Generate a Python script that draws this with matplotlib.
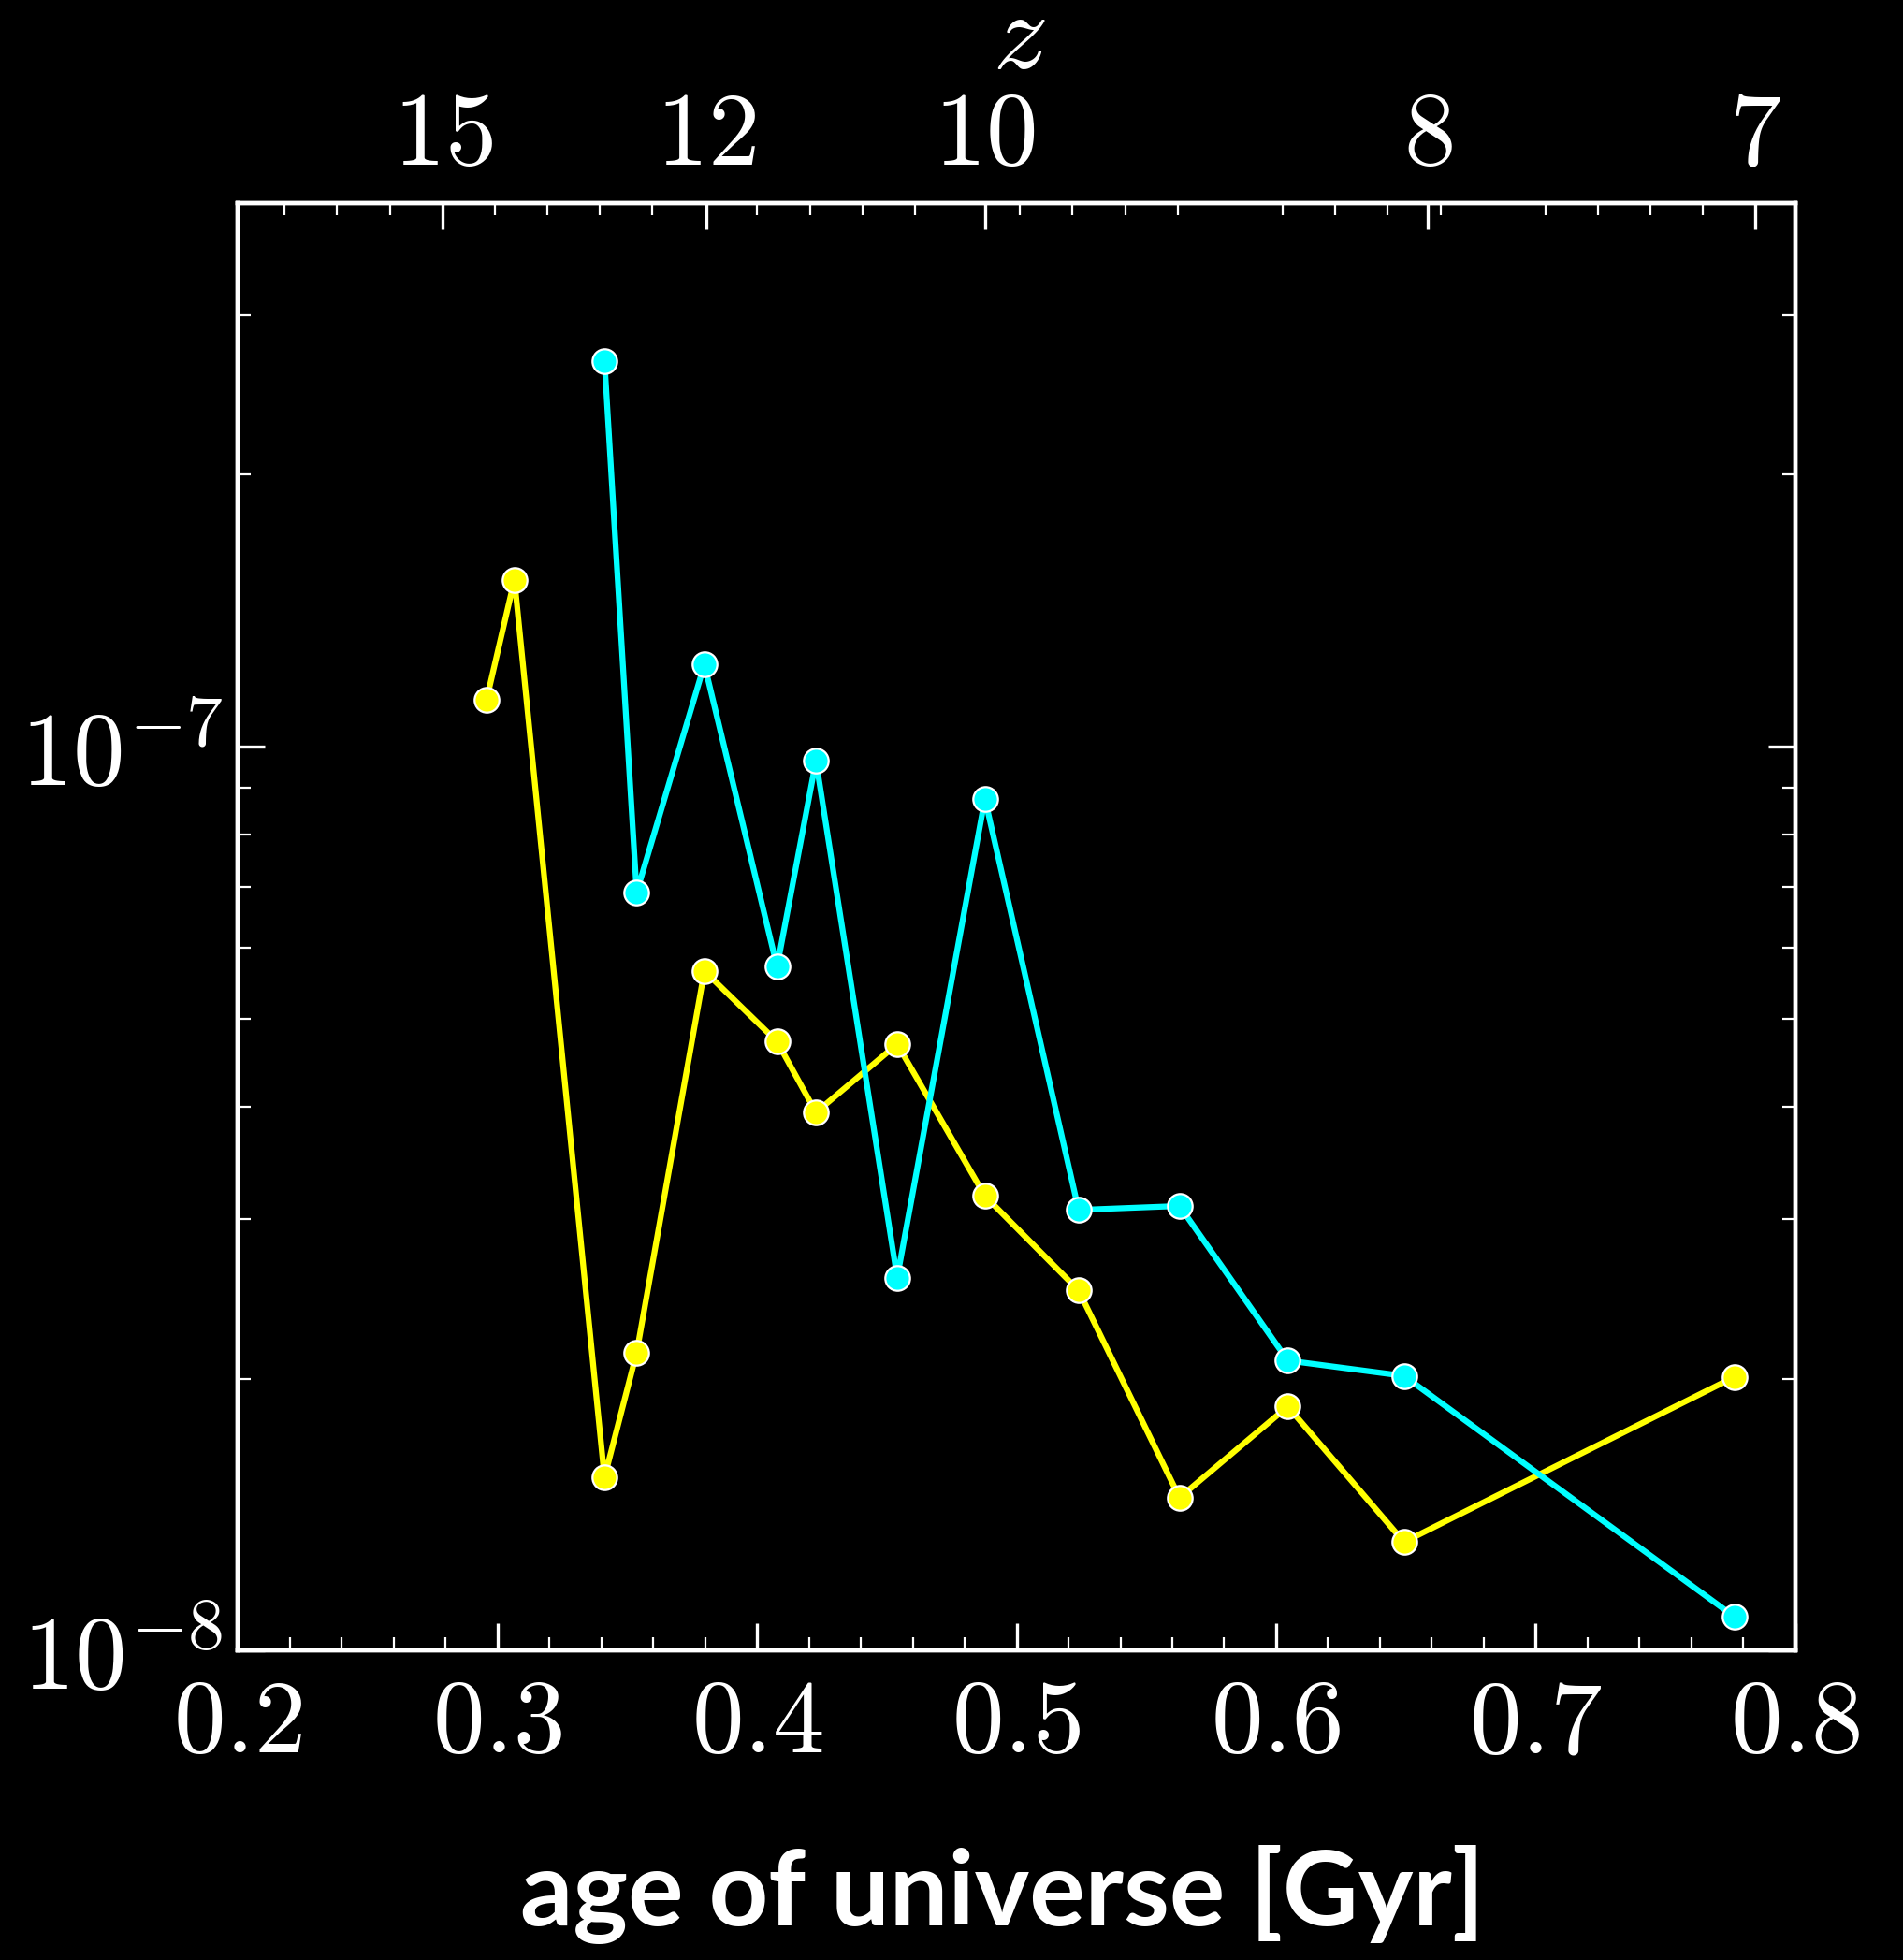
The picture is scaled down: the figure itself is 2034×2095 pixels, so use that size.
import numpy as np
import matplotlib.pyplot as plt
from matplotlib.ticker import MultipleLocator, LogLocator, NullFormatter

# age of universe [Gyr] and values
age_yellow = [0.2957, 0.3065, 0.3412, 0.3536, 0.3797, 0.4077, 0.4227,
              0.4540, 0.4878, 0.5239, 0.5628, 0.6045, 0.6493, 0.7767]
val_yellow = [1.126e-7, 1.531e-7, 1.555e-8, 2.137e-8, 5.65e-8, 4.72e-8, 3.94e-8,
              4.69e-8, 3.185e-8, 2.504e-8, 1.477e-8, 1.863e-8, 1.319e-8, 2.009e-8]

age_cyan = [0.3412, 0.3536, 0.3797, 0.4077, 0.4227, 0.4540,
            0.4878, 0.5239, 0.5628, 0.6045, 0.6493, 0.7767]
val_cyan = [2.672e-7, 6.90e-8, 1.234e-7, 5.71e-8, 9.65e-8, 2.587e-8,
            8.76e-8, 3.074e-8, 3.105e-8, 2.094e-8, 2.014e-8, 1.090e-8]

x_ticks = [0.2, 0.3, 0.4, 0.5, 0.6, 0.7, 0.8]
x_labels = ['0.2', '0.3', '0.4', '0.5', '0.6', '0.7', '0.8']
y_ticks = [1e-8, 1e-7]
y_labels = ['10^{-8}', '10^{-7}']

# redshift axis on top
z_labels = ['15', '12', '10', '8', '7']
z_age = [0.2789, 0.3803, 0.4878, 0.6584, 0.7846]
z_minor = [0.2180, 0.2382, 0.2585, 0.2989, 0.3192, 0.3394, 0.3597,
           0.4001, 0.4204, 0.4406, 0.4609, 0.5013, 0.5216, 0.5418, 0.5621,
           0.6025, 0.6228, 0.6430, 0.6633, 0.7037, 0.7240, 0.7442, 0.7645]

plt.rcParams['mathtext.fontset'] = 'cm'

fig = plt.figure(figsize=(20.34, 20.95), dpi=100, facecolor='black')
ax = fig.add_axes([0.1251, 0.1578, 0.8182, 0.7388])
ax.set_facecolor('black')

ax.plot(age_yellow, val_yellow, color='#ffff00', lw=4.5, marker='o', ms=19,
        mfc='#ffff00', mec='white', mew=1.6, zorder=3)
ax.plot(age_cyan, val_cyan, color='#00ffff', lw=4.5, marker='o', ms=19,
        mfc='#00ffff', mec='white', mew=1.6, zorder=4)

ax.set_yscale('log')
ax.set_xlim(0.2, 0.8)
ax.set_ylim(1e-8, 4e-7)

ax.set_xticks(x_ticks, ['$' + s + '$' for s in x_labels])
ax.xaxis.set_minor_locator(MultipleLocator(0.02))
ax.set_yticks(y_ticks, ['$' + s + '$' for s in y_labels])
ax.yaxis.set_minor_locator(LogLocator(base=10, subs=np.arange(2, 10)))
ax.yaxis.set_minor_formatter(NullFormatter())

ax.tick_params(which='both', direction='in', colors='white',
               top=False, bottom=True, left=True, right=True)
ax.tick_params(which='major', length=21, width=2.4, labelsize=80)
ax.tick_params(which='minor', length=10, width=1.6)
ax.tick_params(axis='x', which='major', pad=18)
ax.tick_params(axis='y', which='major', pad=12)
for s in ax.spines.values():
    s.set_color('white')
    s.set_linewidth(3.2)

ax2 = ax.twiny()
ax2.set_xlim(0.2, 0.8)
ax2.set_xticks(z_age, ['$' + s + '$' for s in z_labels])
ax2.set_xticks(z_minor, minor=True)
ax2.tick_params(which='both', direction='in', colors='white', top=True, bottom=False)
ax2.tick_params(which='major', length=20, width=2.4, labelsize=80, pad=13)
ax2.tick_params(which='minor', length=9, width=1.6)
for s in ax2.spines.values():
    s.set_color('white')
    s.set_linewidth(3.2)

fig.text(0.5354, 0.9652, '$z$', color='white', fontsize=84, ha='center', va='baseline')

fig.text(0.5265, 0.0177, 'age of universe [Gyr]', color='white', fontsize=80,
         fontfamily='Lato', fontweight='bold', ha='center', va='baseline')

fig.savefig('out.png', dpi=100, facecolor='black')
